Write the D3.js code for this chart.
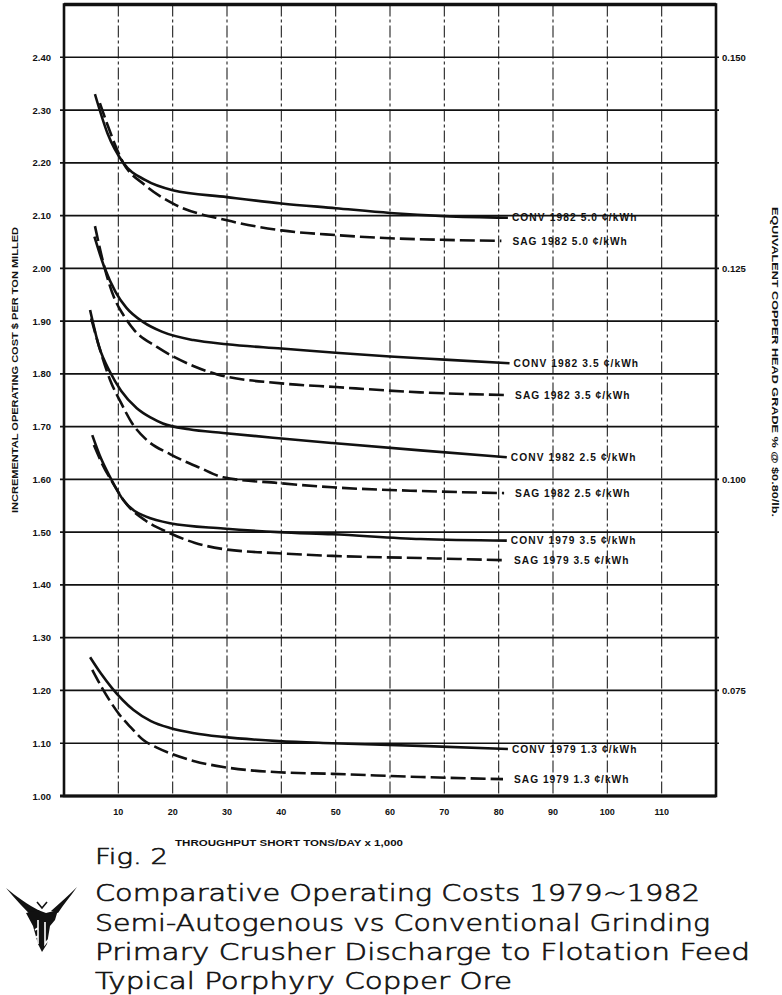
<!DOCTYPE html>
<html><head><meta charset="utf-8">
<script src="https://cdn.jsdelivr.net/npm/d3@7"></script>
<style>body{margin:0;background:#fff}svg{display:block}</style>
</head><body>
<svg id="c" width="782" height="995"></svg>
<script>
// ---------- data ----------
const xTicks = [10,20,30,40,50,60,70,80,90,100,110];
const yTicks = [1.00,1.10,1.20,1.30,1.40,1.50,1.60,1.70,1.80,1.90,2.00,2.10,2.20,2.30,2.40];
const gradeTicks = [0.150,0.125,0.100,0.075];
const gradeToCost = 16; // $/ton per % Cu head grade (at $0.80/lb)

const conv1982_50 = [[5.7,2.330],[8,2.256],[10.9,2.200],[15,2.167],[20,2.148],[30,2.135],[40,2.123],[50,2.114],[60,2.105],[70,2.099],[81.7,2.096]];
const sag1982_50  = [[6.6,2.313],[8,2.272],[10.9,2.200],[15,2.157],[20,2.123],[30,2.091],[40,2.072],[50,2.063],[60,2.057],[70,2.054],[80.5,2.052]];
const conv1982_35 = [[5.6,2.060],[7.5,2.000],[9.5,1.955],[11.5,1.925],[14.6,1.898],[18,1.880],[23.8,1.864],[30,1.856],[40,1.848],[50,1.840],[60,1.833],[70,1.827],[82,1.820]];
const sag1982_35  = [[5.7,2.080],[7.5,2.000],[9.2,1.945],[10.9,1.912],[13,1.882],[17.1,1.851],[23.8,1.815],[28.2,1.799],[40,1.782],[50,1.775],[65.6,1.765],[81,1.760]];
const conv1982_25 = [[4.8,1.921],[6.5,1.850],[8.5,1.803],[10.5,1.768],[13.4,1.735],[16,1.717],[18.2,1.706],[23,1.695],[29.3,1.688],[39.5,1.678],[49.4,1.669],[65.6,1.655],[81.5,1.642]];
const sag1982_25  = [[5.0,1.905],[6.8,1.840],[8.5,1.788],[10.5,1.745],[12.5,1.707],[15.3,1.674],[19.5,1.648],[25,1.622],[29.3,1.604],[39.5,1.593],[49.4,1.585],[65.6,1.578],[81,1.574]];
const conv1979_35 = [[5.2,1.684],[6.8,1.640],[8.5,1.604],[10.9,1.561],[13,1.540],[15,1.530],[19.5,1.517],[29.3,1.507],[39.5,1.500],[49.4,1.496],[65.6,1.487],[81.5,1.484]];
const sag1979_35  = [[5.5,1.665],[7,1.630],[9.0,1.593],[11.6,1.552],[15,1.522],[19.5,1.498],[24,1.480],[29.3,1.468],[39.5,1.460],[49.4,1.455],[65.6,1.451],[80.8,1.447]];
const conv1979_13 = [[4.8,1.263],[6.8,1.232],[8.8,1.205],[12.8,1.163],[16,1.142],[19.5,1.129],[24,1.119],[29.3,1.112],[39.5,1.104],[49.4,1.100],[65.6,1.095],[81.7,1.089]];
const sag1979_13  = [[5.2,1.239],[7,1.205],[10.3,1.153],[12.3,1.130],[14.6,1.106],[17,1.092],[19.5,1.081],[24,1.066],[29.3,1.055],[39.5,1.045],[49.4,1.042],[65.6,1.036],[80.8,1.032]];

const seriesNames = ["CONV 1982 5.0 ¢/kWh","SAG 1982 5.0 ¢/kWh","CONV 1982 3.5 ¢/kWh","SAG 1982 3.5 ¢/kWh",
  "CONV 1982 2.5 ¢/kWh","SAG 1982 2.5 ¢/kWh","CONV 1979 3.5 ¢/kWh","SAG 1979 3.5 ¢/kWh",
  "CONV 1979 1.3 ¢/kWh","SAG 1979 1.3 ¢/kWh"];
const seriesData = [conv1982_50,sag1982_50,conv1982_35,sag1982_35,conv1982_25,sag1982_25,conv1979_35,sag1979_35,conv1979_13,sag1979_13];

const yTitle = "INCREMENTAL OPERATING COST $ PER TON MILLED";
const y2Title = "EQUIVALENT COPPER HEAD GRADE % @ $0.80/lb.";
const xTitle = "THROUGHPUT SHORT TONS/DAY x 1,000";
const figLabel = "Fig. 2";
const titleLines = ["Comparative Operating Costs 1979~1982","Semi-Autogenous vs Conventional Grinding",
  "Primary Crusher Discharge to Flotation Feed","Typical Porphyry Copper Ore"];

// ---------- layout ----------
const svg = d3.select("#c");
const x = d3.scaleLinear().domain([0,120]).range([64,716]);
const y = d3.scaleLinear().domain([1.0,2.5]).range([796,4.5]);
const FONT = "'Liberation Sans', Arial, sans-serif";
const ink = "#111";

// vertical gridlines
svg.append("g").selectAll("line").data(xTicks).join("line")
  .attr("x1",d=>x(d)).attr("x2",d=>x(d)).attr("y1",y(2.5)).attr("y2",y(1.0))
  .attr("stroke","#222").attr("stroke-width",1.1).attr("stroke-dasharray","12,3,3,3");

// horizontal gridlines
svg.append("g").selectAll("line").data(yTicks.filter(d=>d>1.0)).join("line")
  .attr("x1",x(0)-4).attr("x2",x(120)+3).attr("y1",d=>y(d)).attr("y2",d=>y(d))
  .attr("stroke",ink).attr("stroke-width",1.7);

// frame
svg.append("rect").attr("x",x(0)).attr("y",y(2.5)).attr("width",x(120)-x(0)).attr("height",y(1.0)-y(2.5))
  .attr("fill","none").attr("stroke",ink).attr("stroke-width",2.6);
svg.append("line").attr("x1",x(0)).attr("x2",x(120)).attr("y1",y(2.5)).attr("y2",y(2.5))
  .attr("stroke",ink).attr("stroke-width",3.6);
svg.append("line").attr("x1",x(0)-4).attr("x2",x(120)).attr("y1",y(1.0)).attr("y2",y(1.0))
  .attr("stroke",ink).attr("stroke-width",3.2);

// left axis labels
svg.append("g").selectAll("text").data(yTicks).join("text")
  .attr("x",51).attr("y",d=>y(d)+3.5).attr("text-anchor","end")
  .attr("font-family",FONT).attr("font-weight","bold").attr("font-size",9.5).attr("fill",ink)
  .text(d=>d3.format(".2f")(d));

// right axis labels
svg.append("g").selectAll("text").data(gradeTicks).join("text")
  .attr("x",722).attr("y",d=>y(d*gradeToCost)+3.5).attr("text-anchor","start")
  .attr("font-family",FONT).attr("font-weight","bold").attr("font-size",9.5).attr("fill",ink)
  .text(d=>d3.format(".3f")(d));

// x axis labels
svg.append("g").selectAll("text").data(xTicks).join("text")
  .attr("x",d=>x(d)).attr("y",815).attr("text-anchor","middle")
  .attr("font-family",FONT).attr("font-weight","bold").attr("font-size",9).attr("fill",ink)
  .text(d=>d);

// axis titles
svg.append("text").attr("x",289).attr("y",846).attr("text-anchor","middle")
  .attr("font-family",FONT).attr("font-weight","bold").attr("font-size",9).attr("fill",ink)
  .attr("textLength",228).attr("lengthAdjust","spacingAndGlyphs").text(xTitle);
svg.append("text").attr("transform","translate(18,370) rotate(-90)").attr("text-anchor","middle")
  .attr("font-family",FONT).attr("font-weight","bold").attr("font-size",9).attr("fill",ink)
  .attr("textLength",286).attr("lengthAdjust","spacingAndGlyphs").text(yTitle);
svg.append("text").attr("transform","translate(772,362) rotate(90)").attr("text-anchor","middle")
  .attr("font-family",FONT).attr("font-weight","bold").attr("font-size",9).attr("fill",ink)
  .attr("textLength",310).attr("lengthAdjust","spacingAndGlyphs").text(y2Title);

// curves
const line = d3.line().x(d=>x(d[0])).y(d=>y(d[1])).curve(d3.curveMonotoneX);
const g = svg.append("g");
seriesData.forEach((data,i)=>{
  const isSag = seriesNames[i].startsWith("SAG");
  g.append("path").attr("d",line(data)).attr("fill","none").attr("stroke",ink)
    .attr("stroke-width",2.6).attr("stroke-linecap","butt")
    .attr("stroke-dasharray",isSag?"15,5":null);
  const last = data[data.length-1];
  g.append("text").attr("x",x(last[0])+(isSag?11:4)).attr("y",y(last[1])+3.7)
    .attr("font-family",FONT).attr("font-weight","bold").attr("font-size",10.2).attr("fill",ink)
    .attr("letter-spacing",isSag?1.0:1.1)
    .text(seriesNames[i]);
});

// figure caption
const TF = "'DejaVu Sans', Verdana, sans-serif";
svg.append("text").attr("x",95).attr("y",864).attr("font-family",TF).attr("font-weight",300).attr("font-size",22)
  .attr("fill",ink).attr("stroke",ink).attr("stroke-width",0.6)
  .attr("textLength",73).attr("lengthAdjust","spacingAndGlyphs").text(figLabel);
const titleY = [901,931,960,989];
const titleW = [605,615,655,417];
titleLines.forEach((t,i)=>{
  svg.append("text").attr("x",95).attr("y",titleY[i]).attr("font-family",TF).attr("font-weight",300).attr("font-size",23)
    .attr("fill",ink).attr("stroke",ink).attr("stroke-width",0.6)
    .attr("textLength",titleW[i]).attr("lengthAdjust","spacingAndGlyphs").text(t);
});

// logo
const logo = svg.append("g").attr("fill",ink).attr("stroke","none");
logo.append("path").attr("d","M6,888 C16,896 28,905 40,911 L35,920 C26,910 15,899 6,888 Z");
logo.append("path").attr("d","M77,887 C70,897 63,905 58,913 L51,911 C60,903 69,895 77,887 Z");
logo.append("path").attr("d","M37,902 L42,908 L47,902").attr("fill","none").attr("stroke",ink).attr("stroke-width",1.6);
logo.append("path").attr("d","M26,913 L38,910 L46,913 L58,910 L55,920 L50,926 L47,944 L42,952 L38,944 L33,926 Z");
logo.append("path").attr("d","M38,920 L38,944 M38,928 L35,930 M38,936 L35,938 M45,922 L45,944 L48,940")
  .attr("fill","none").attr("stroke","#fff").attr("stroke-width",1.6);
</script>
</body></html>
